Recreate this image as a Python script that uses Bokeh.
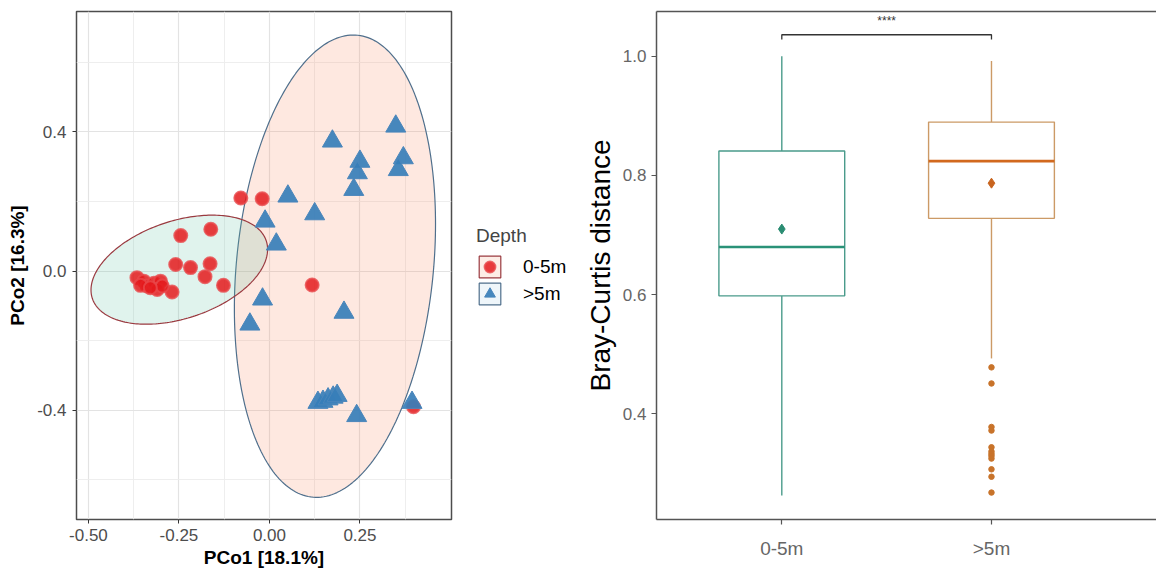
import numpy as np
from bokeh.plotting import figure
from bokeh.models import (Range1d, FixedTicker, PrintfTickFormatter, Legend,
                          LegendItem, LinearAxis)
from bokeh.layouts import row
from bokeh.embed import file_html
from bokeh.resources import INLINE
from bokeh.core.properties import value

# ---------------- PCoA (left panel) ----------------
depth_labels = ["0-5m", ">5m"]

shallow_pc1 = [-0.245, -0.162, -0.259, -0.218, -0.164, -0.178, -0.127, -0.269,
               -0.366, -0.347, -0.338, -0.356, -0.319, -0.301, -0.310, -0.296,
               -0.329, -0.079, -0.020, 0.118, 0.398]
shallow_pc2 = [0.102, 0.120, 0.019, 0.010, 0.021, -0.016, -0.041, -0.060,
               -0.019, -0.029, -0.043, -0.041, -0.035, -0.029, -0.053, -0.043,
               -0.048, 0.210, 0.208, -0.040, -0.390]

deep_pc1 = [0.349, 0.174, 0.250, 0.370, 0.356, 0.243, 0.233, 0.051, 0.125,
            -0.012, 0.019, -0.019, 0.206, -0.054, 0.134, 0.148, 0.162, 0.176,
            0.187, 0.241, 0.394]
deep_pc2 = [0.416, 0.373, 0.315, 0.325, 0.291, 0.282, 0.234, 0.215, 0.164,
            0.143, 0.077, -0.081, -0.119, -0.153, -0.378, -0.375, -0.368,
            -0.363, -0.358, -0.416, -0.378]

# confidence ellipse parameters (centre, shape matrix) per depth group
ellipse_center_shallow = [-0.249, 0.004]
ellipse_shape_shallow = [[0.0595, 0.01426], [0.01426, 0.02456]]
ellipse_center_deep = [0.181, 0.014]
ellipse_shape_deep = [[0.0772, 0.0338], [0.0338, 0.4414]]

pc1_ticks = [-0.50, -0.25, 0.00, 0.25]
pc1_minor = [-0.375, -0.125, 0.125, 0.375]
pc2_ticks = [-0.4, 0.0, 0.4]
pc2_minor = [-0.6, -0.2, 0.2, 0.6]

# ---------------- Bray-Curtis boxplot (right panel) ----------------
groups = ["0-5m", ">5m"]
bc_q1 = [0.598, 0.728]
bc_median = [0.680, 0.824]
bc_q3 = [0.841, 0.8895]
bc_whisker_low = [0.263, 0.493]
bc_whisker_high = [1.000, 0.992]
bc_mean = [0.710, 0.787]
bc_outliers_deep = [0.478, 0.451, 0.378, 0.372, 0.344, 0.337, 0.333, 0.3295,
                    0.325, 0.307, 0.2945, 0.268]
bc_ticks = [0.4, 0.6, 0.8, 1.0]
signif_label = "****"
signif_y = 1.036

FONT = "Liberation Sans"

# styles
RED = dict(marker="circle", size=13, fill_color="#e41a1c", fill_alpha=0.85,
           line_color="#e8494b", line_alpha=0.8, line_width=2)
BLUE = dict(marker="triangle", size=20, fill_color="#377eb8", fill_alpha=0.92,
            line_color="#4a86bb", line_width=1)


def ellipse_xy(center, shape, n=240):
    L = np.linalg.cholesky(np.array(shape))
    t = np.linspace(0, 2 * np.pi, n)
    pts = L @ np.vstack([np.cos(t), np.sin(t)])
    return list(pts[0] + center[0]), list(pts[1] + center[1])


# ================= left figure =================
left = figure(width=465, height=571, output_backend="svg", toolbar_location=None,
              x_range=Range1d(-0.533, 0.503), y_range=Range1d(-0.714, 0.746),
              min_border_left=76, min_border_right=14, min_border_top=10,
              min_border_bottom=52)
left.background_fill_color = "white"
left.border_fill_color = "white"
left.outline_line_color = "#4d4d4d"
left.outline_line_width = 1.5

for ax in (left.xaxis[0], left.yaxis[0]):
    ax.axis_line_color = None
    ax.major_tick_line_color = "#333333"
    ax.major_tick_out = 4
    ax.major_tick_in = 0
    ax.minor_tick_line_color = None
    ax.major_label_text_font = FONT
    ax.major_label_text_font_size = "17px"
    ax.major_label_text_color = "#4d4d4d"
    ax.axis_label_text_font = FONT
    ax.axis_label_text_font_size = "19px"
    ax.axis_label_text_font_style = "bold"
    ax.axis_label_text_color = "black"

left.xaxis.ticker = FixedTicker(ticks=pc1_ticks, minor_ticks=pc1_minor)
left.yaxis.ticker = FixedTicker(ticks=pc2_ticks, minor_ticks=pc2_minor)
left.xaxis.formatter = PrintfTickFormatter(format="%.2f")
left.yaxis.formatter = PrintfTickFormatter(format="%.1f")
left.xaxis.axis_label = "PCo1 [18.1%]"
left.yaxis.axis_label = "PCo2 [16.3%]"
left.xaxis.major_label_standoff = 5
left.yaxis.major_label_standoff = 6
left.xaxis.axis_label_standoff = 3
left.yaxis.axis_label_standoff = 6

for g in (left.xgrid[0], left.ygrid[0]):
    g.grid_line_color = "#e3e3e3"
    g.grid_line_width = 1.2
    g.minor_grid_line_color = "#ececec"
    g.minor_grid_line_width = 0.9

ex_d, ey_d = ellipse_xy(ellipse_center_deep, ellipse_shape_deep)
ex_s, ey_s = ellipse_xy(ellipse_center_shallow, ellipse_shape_shallow)
left.patch(ex_d, ey_d, fill_color="#fc8d62", fill_alpha=0.2,
           line_color="#4f6f8c", line_width=1.2)
left.patch(ex_s, ey_s, fill_color="#66c2a5", fill_alpha=0.2,
           line_color="#9a3a40", line_width=1.2)

left.scatter(shallow_pc1, shallow_pc2, **RED)
left.scatter(deep_pc1, deep_pc2, **BLUE)

# ================= legend panel =================
leg_fig = figure(width=115, height=571, output_backend="svg", toolbar_location=None,
                 x_range=Range1d(10, 11), y_range=Range1d(10, 11),
                 x_axis_type=None, y_axis_type=None, min_border=0)
leg_fig.outline_line_color = None
leg_fig.xgrid.visible = False
leg_fig.ygrid.visible = False
# proxies (out of the visible range) that only supply legend keys
k1p = leg_fig.patch(ex_s, ey_s, fill_color="#f4a582", fill_alpha=0.2,
                    line_color="#9a3a40", line_width=1.2)
k1s = leg_fig.scatter(shallow_pc1, shallow_pc2, **RED)
k2p = leg_fig.patch(ex_d, ey_d, fill_color="#92c5de", fill_alpha=0.15,
                    line_color="#4f6f8c", line_width=1.2)
k2s = leg_fig.scatter(deep_pc1, deep_pc2, **BLUE)

legend = Legend(items=[LegendItem(label=depth_labels[0], renderers=[k1p, k1s]),
                       LegendItem(label=depth_labels[1], renderers=[k2p, k2s])],
                title="Depth", location=(11, 212), orientation="vertical")
legend.margin = 0
legend.padding = 0
legend.spacing = 0
legend.glyph_width = 27
legend.glyph_height = 27
legend.label_height = 27
legend.label_standoff = 20
legend.border_line_color = None
legend.background_fill_color = None
legend.title_text_font = FONT
legend.title_text_font_size = "19px"
legend.title_text_font_style = "normal"
legend.title_standoff = 6
legend.label_text_font = FONT
legend.label_text_font_size = "19px"
legend.label_text_color = "black"
leg_fig.add_layout(legend)

# ================= right figure =================
xs = [i + 1 for i in range(len(groups))]
box_line = ["#4a9b8b", "#cc9a66"]
median_col = ["#2a9278", "#d2691e"]
mean_col = ["#2a8c72", "#c8641e"]
outlier_col = "#c8732a"

right = figure(width=576, height=571, output_backend="svg", toolbar_location=None,
               x_range=Range1d(0.4024, 2.787), y_range=Range1d(0.2228, 1.075),
               min_border_left=76, min_border_right=0, min_border_top=11,
               min_border_bottom=48)
right.outline_line_color = None
right.xgrid.visible = False
right.ygrid.visible = False

for ax in (right.xaxis[0], right.yaxis[0]):
    ax.axis_line_color = "#555555"
    ax.axis_line_width = 1.5
    ax.major_tick_line_color = "#555555"
    ax.major_tick_line_width = 1.2
    ax.major_tick_out = 5
    ax.major_tick_in = 0
    ax.minor_tick_line_color = None
    ax.major_label_text_font = FONT
    ax.major_label_text_color = "#666666"
    ax.axis_label_text_font = FONT
    ax.axis_label_text_font_style = "normal"
    ax.axis_label_text_color = "black"

right.yaxis.ticker = FixedTicker(ticks=bc_ticks)
right.yaxis.formatter = PrintfTickFormatter(format="%.1f")
right.yaxis.major_label_text_font_size = "17px"
right.yaxis.major_label_standoff = 5
right.yaxis.axis_label = "Bray-Curtis distance"
right.yaxis.axis_label_text_font_size = "28px"
right.yaxis.axis_label_standoff = 4

right.xaxis.ticker = FixedTicker(ticks=xs)
right.xaxis.major_label_overrides = {x: g for x, g in zip(xs, groups)}
right.xaxis.major_label_text_font_size = "19px"
right.xaxis.major_label_standoff = 13

top_axis = LinearAxis(ticker=FixedTicker(ticks=[]), axis_line_color="#555555",
                      axis_line_width=1.5, major_tick_line_color=None,
                      minor_tick_line_color=None, major_label_text_font_size="0px")
right.add_layout(top_axis, "above")

# whiskers
right.segment(x0=xs, y0=bc_q3, x1=xs, y1=bc_whisker_high, line_color=box_line,
              line_width=1.4)
right.segment(x0=xs, y0=bc_q1, x1=xs, y1=bc_whisker_low, line_color=box_line,
              line_width=1.4)
# boxes
right.vbar(x=xs, width=0.6, top=bc_q3, bottom=bc_q1, fill_color="white",
           line_color=box_line, line_width=1.4)
# medians
right.segment(x0=[x - 0.3 for x in xs], y0=bc_median, x1=[x + 0.3 for x in xs],
              y1=bc_median, line_color=median_col, line_width=2.6)
# means
right.scatter(xs, bc_mean, marker="diamond", size=10, fill_color=mean_col,
              line_color=mean_col)
# outliers (>5m)
right.scatter([xs[1]] * len(bc_outliers_deep), bc_outliers_deep, marker="circle",
              size=5.5, fill_color=outlier_col, line_color=outlier_col)

# significance bracket
tick_len = 0.008
right.line([xs[0], xs[0], xs[1], xs[1]],
           [signif_y - tick_len, signif_y, signif_y, signif_y - tick_len],
           line_color="#333333", line_width=1.3)
right.text(x=[(xs[0] + xs[1]) / 2], y=[signif_y + 0.012], text=[signif_label],
           text_font=value(FONT), text_font_size="12px", text_color="#333333",
           text_align="center", text_baseline="bottom")

layout = row(left, leg_fig, right)
open("out.html", "w").write(file_html(layout, INLINE))
